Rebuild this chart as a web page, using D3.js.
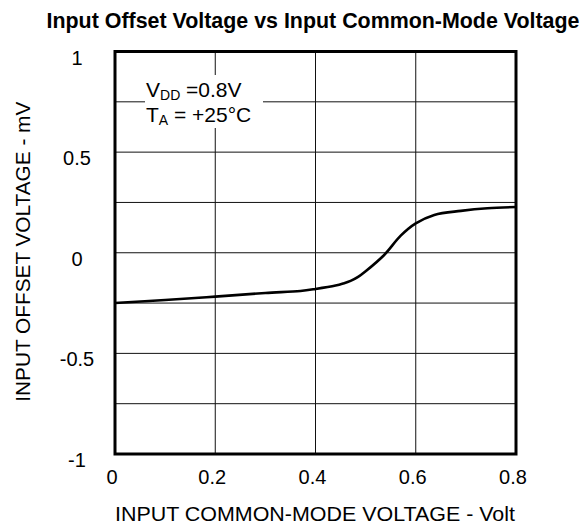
<!DOCTYPE html>
<html>
<head>
<meta charset="utf-8">
<script src="https://cdn.jsdelivr.net/npm/d3@7"></script>
<style>
  body { margin: 0; background: #fff; }
  text { font-family: "Liberation Sans", Arial, sans-serif; fill: #000; }
</style>
</head>
<body>
<svg width="583" height="524"></svg>
<script>
// curve
var vcm = [0, 0.1, 0.2, 0.3, 0.37, 0.4, 0.44, 0.455, 0.47, 0.485, 0.5, 0.537, 0.57, 0.6, 0.637, 0.69, 0.743, 0.8];
var vos = [-0.25, -0.235, -0.218, -0.2, -0.19, -0.18, -0.163, -0.153, -0.14, -0.12, -0.092, -0.011, 0.085, 0.146, 0.188, 0.208, 0.221, 0.227];
var xTicks = [0, 0.2, 0.4, 0.6, 0.8];
var yTicks = [-1, -0.5, 0, 0.5, 1];
var yGrid = [-0.75, -0.5, -0.25, 0, 0.25, 0.5, 0.75];

var svg = d3.select("svg");
var x = d3.scaleLinear().domain([0, 0.8]).range([115, 516]);
var y = d3.scaleLinear().domain([-1, 1]).range([454, 51.5]);

// grid
var g = svg.append("g");
g.selectAll("line.v").data([0.2, 0.4, 0.6]).enter().append("line")
    .attr("x1", d => x(d)).attr("x2", d => x(d))
    .attr("y1", y(-1)).attr("y2", y(1))
    .attr("stroke", "#111").attr("stroke-width", 1);
g.selectAll("line.h").data(yGrid).enter().append("line")
    .attr("x1", x(0)).attr("x2", x(0.8))
    .attr("y1", d => y(d)).attr("y2", d => y(d))
    .attr("stroke", "#111").attr("stroke-width", 1);

// legend box blanks the grid
svg.append("rect").attr("x", 145).attr("y", 75).attr("width", 118).attr("height", 53).attr("fill", "#fff");
var l1 = svg.append("text").attr("x", 146).attr("y", 97).style("font-size", "21px");
l1.append("tspan").text("V");
l1.append("tspan").attr("dy", 3).style("font-size", "14px").text("DD");
l1.append("tspan").attr("dy", -3).text(" =0.8V");
var l2 = svg.append("text").attr("x", 146).attr("y", 122).style("font-size", "21px");
l2.append("tspan").text("T");
l2.append("tspan").attr("dy", 3).style("font-size", "14px").text("A");
l2.append("tspan").attr("dy", -3).text(" = +25°C");

// frame
svg.append("rect").attr("x", x(0)).attr("y", y(1))
    .attr("width", x(0.8) - x(0)).attr("height", y(-1) - y(1))
    .attr("fill", "none").attr("stroke", "#000").attr("stroke-width", 3);

// curve
var line = d3.line().x((d, i) => x(vcm[i])).y(d => y(d)).curve(d3.curveCatmullRom);
svg.append("path").datum(vos).attr("d", line)
    .attr("fill", "none").attr("stroke", "#000").attr("stroke-width", 2.6);

// tick labels
svg.selectAll("text.xt").data(xTicks).enter().append("text")
    .attr("x", d => x(d) - 3).attr("y", 483.5)
    .attr("text-anchor", "middle").style("font-size", "20px")
    .text(d => d === 0 ? "0" : d3.format(".1f")(d));
svg.selectAll("text.yt").data(yTicks).enter().append("text")
    .attr("x", 77).attr("y", d => y(d) + 13)
    .attr("text-anchor", "middle").style("font-size", "20px")
    .text(d => d);

// titles
svg.append("text").attr("x", 315).attr("y", 521).attr("text-anchor", "middle")
    .attr("textLength", 400).attr("lengthAdjust", "spacingAndGlyphs")
    .style("font-size", "20px").text("INPUT COMMON-MODE VOLTAGE - Volt");
svg.append("text").attr("transform", "translate(29.5,251.7) rotate(-90)").attr("text-anchor", "middle")
    .attr("textLength", 300).attr("lengthAdjust", "spacingAndGlyphs")
    .style("font-size", "21px").text("INPUT OFFSET VOLTAGE - mV");
svg.append("text").attr("x", 313).attr("y", 28).attr("text-anchor", "middle")
    .attr("textLength", 533).attr("lengthAdjust", "spacingAndGlyphs")
    .style("font-size", "21.5px").style("font-weight", "bold")
    .text("Input Offset Voltage vs Input Common-Mode Voltage");
</script>
</body>
</html>
